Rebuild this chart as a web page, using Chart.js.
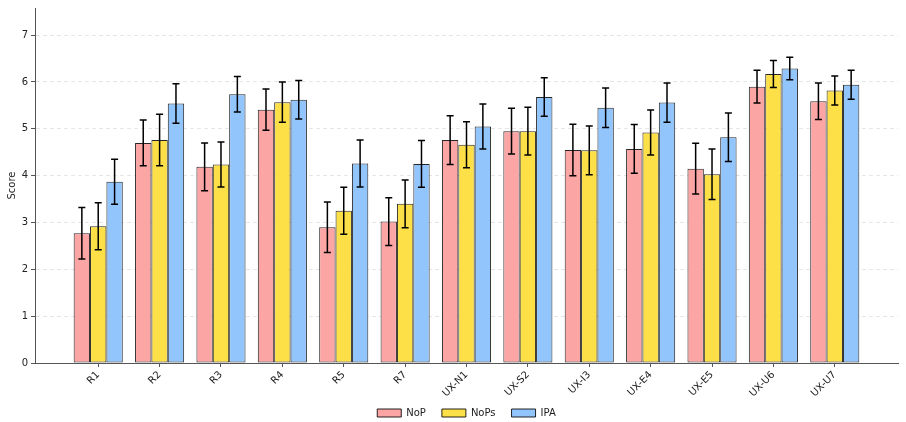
<!DOCTYPE html>
<html>
<head>
<meta charset="utf-8">
<script src="https://cdn.jsdelivr.net/npm/chart.js@4"></script>
<style>
  html, body { margin: 0; padding: 0; background: #fff; }
  #wrap { width: 906px; height: 422px; }
</style>
</head>
<body>
<div id="wrap"><canvas id="chart" width="906" height="422"></canvas></div>
<script>
const categories = ['R1', 'R2', 'R3', 'R4', 'R5', 'R7', 'UX-N1', 'UX-S2', 'UX-I3', 'UX-E4', 'UX-E5', 'UX-U6', 'UX-U7']
const nopValues  = [2.77, 4.70, 4.19, 5.41, 2.90, 3.02, 4.76, 4.95, 4.55, 4.57, 4.15, 5.90, 5.59]
const nopErr     = [0.55, 0.49, 0.51, 0.44, 0.54, 0.51, 0.52, 0.49, 0.55, 0.52, 0.54, 0.35, 0.39]
const nopsValues = [2.92, 4.76, 4.24, 5.57, 3.25, 3.40, 4.66, 4.95, 4.54, 4.92, 4.03, 6.17, 5.82]
const nopsErr    = [0.50, 0.55, 0.48, 0.43, 0.50, 0.51, 0.49, 0.51, 0.52, 0.48, 0.54, 0.29, 0.31]
const ipaValues  = [3.87, 5.54, 5.74, 5.62, 4.26, 4.25, 5.05, 5.68, 5.45, 5.56, 4.82, 6.29, 5.94]
const ipaErr     = [0.48, 0.42, 0.38, 0.41, 0.50, 0.50, 0.48, 0.41, 0.42, 0.42, 0.52, 0.24, 0.31]
const yTicks = [0, 1, 2, 3, 4, 5, 6, 7]

const font = { family: 'DejaVu Sans', size: 10 }

function points(vals) {
  return vals.map((v, i) => ({ x: i, y: v }))
}

// draws the error bars on top of each bar
const errorBars = {
  id: 'errorBars',
  afterDatasetsDraw(chart) {
    const ctx = chart.ctx
    const yScale = chart.scales.y
    chart.data.datasets.forEach((ds, i) => {
      const meta = chart.getDatasetMeta(i)
      meta.data.forEach((bar, j) => {
        const v = ds.data[j].y
        const e = ds.errors[j]
        const top = yScale.getPixelForValue(v + e)
        const bot = yScale.getPixelForValue(v - e)
        ctx.save()
        ctx.strokeStyle = '#000'
        ctx.lineWidth = 1.5
        ctx.beginPath()
        ctx.moveTo(bar.x, top); ctx.lineTo(bar.x, bot)
        ctx.moveTo(bar.x - 3.5, top); ctx.lineTo(bar.x + 3.5, top)
        ctx.moveTo(bar.x - 3.5, bot); ctx.lineTo(bar.x + 3.5, bot)
        ctx.stroke()
        ctx.restore()
      })
    })
  }
}

// center the legend under the plot area, like matplotlib's fig legend
const legendPlacer = {
  id: 'legendPlacer',
  afterLayout(chart) {
    const lg = chart.legend
    const area = chart.chartArea
    const h = lg.bottom - lg.top
    lg.left = area.left
    lg.right = area.right
    lg.top = area.bottom + 29
    lg.bottom = lg.top + h
  }
}

const ctx = document.getElementById('chart').getContext('2d')

new Chart(ctx, {
  type: 'bar',
  data: {
    datasets: [
      { label: 'NoP',  data: points(nopValues),  errors: nopErr,  backgroundColor: '#FCA5A5' },
      { label: 'NoPs', data: points(nopsValues), errors: nopsErr, backgroundColor: '#FDE047' },
      { label: 'IPA',  data: points(ipaValues),  errors: ipaErr,  backgroundColor: '#93C5FD' }
    ].map(d => Object.assign(d, {
      borderColor: 'rgba(0,0,0,0.85)',
      borderWidth: 1,
      borderSkipped: false,
      categoryPercentage: 0.8,
      barPercentage: 1.0
    }))
  },
  options: {
    responsive: false,
    animation: false,
    layout: { padding: { top: 8, right: 8, left: 0, bottom: -17 } },
    scales: {
      x: {
        type: 'linear',
        offset: false,
        min: -1.03,
        max: 13.03,
        afterBuildTicks: s => { s.ticks = categories.map((c, i) => ({ value: i })) },
        afterFit: s => { s.height = 40; s.paddingLeft = 0; s.paddingRight = 0 },
        ticks: {
          autoSkip: false,
          maxRotation: 45,
          minRotation: 45,
          padding: 2,
          color: '#222',
          font: font,
          callback: v => categories[v] ?? ''
        },
        grid: { offset: false, drawOnChartArea: false, tickLength: 4, tickColor: '#555' },
        border: { color: '#555', width: 1 }
      },
      y: {
        min: 0,
        max: 7.58,
        afterBuildTicks: s => { s.ticks = yTicks.map(v => ({ value: v })) },
        afterFit: s => { s.width = 35; s.paddingTop = 0; s.paddingBottom = 0 },
        ticks: { padding: 3, color: '#222', font: font },
        title: { display: true, text: 'Score', color: '#222', font: font, padding: 6 },
        grid: { color: '#e6e6e6', tickColor: '#555', tickLength: 4, tickBorderDash: [] },
        border: { color: '#555', width: 1, dash: [4, 3] }
      }
    },
    plugins: {
      legend: {
        position: 'bottom',
        labels: {
          boxWidth: 24,
          boxHeight: 8,
          padding: 16,
          color: '#222',
          font: font
        }
      },
      tooltip: { enabled: false }
    }
  },
  plugins: [errorBars, legendPlacer]
})
</script>
</body>
</html>
